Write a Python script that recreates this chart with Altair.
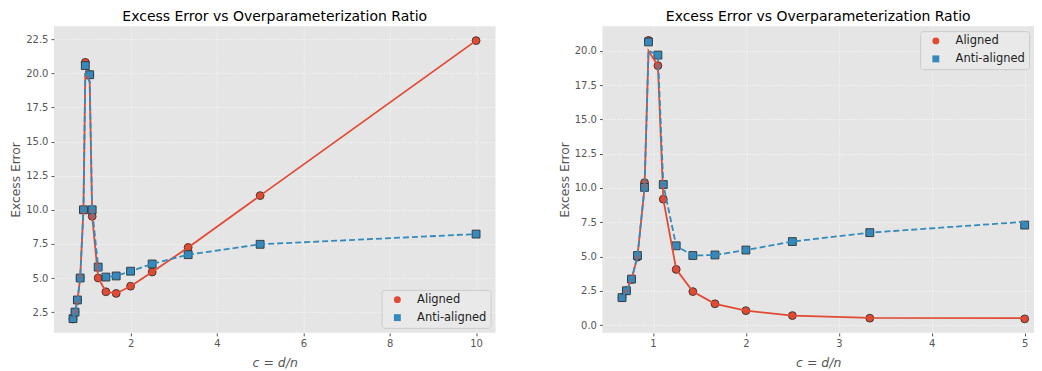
import altair as alt
import pandas as pd

# ---- data ----
series_names = ["Aligned", "Anti-aligned"]

x_left = [0.667, 0.714, 0.769, 0.833, 0.909, 0.952, 1.053, 1.111, 1.25, 1.429,
          1.667, 2.0, 2.5, 3.333, 5.0, 10.0]
left_aligned_pts = [2.0, 2.5, 3.37, 5.0, 10.0, 20.81, 19.9, 9.52, 5.0, 3.99,
                    3.87, 4.4, 5.44, 7.24, 11.04, 22.4]
left_anti_pts = [2.02, 2.5, 3.39, 5.0, 10.0, 20.57, 19.9, 10.0, 5.8, 5.07,
                 5.15, 5.5, 6.03, 6.71, 7.47, 8.22]
left_aligned_line = [2.0, 2.5, 3.33, 5.0, 10.0, 20.0, 19.4, 9.52, 5.0, 3.99,
                     3.87, 4.4, 5.44, 7.24, 11.04, 22.4]
left_anti_line = [2.0, 2.5, 3.33, 5.0, 10.0, 20.0, 19.4, 10.0, 5.8, 5.07,
                  5.15, 5.5, 6.03, 6.71, 7.47, 8.22]

x_right = [0.667, 0.714, 0.769, 0.833, 0.909, 0.952, 1.053, 1.111, 1.25, 1.429,
           1.667, 2.0, 2.5, 3.333, 5.0]
right_aligned_pts = [2.0, 2.5, 3.33, 4.95, 10.39, 20.76, 18.92, 9.18, 4.06, 2.44,
                     1.55, 1.05, 0.69, 0.5, 0.45]
right_anti_pts = [2.0, 2.5, 3.35, 5.07, 10.04, 20.65, 19.69, 10.25, 5.78, 5.07,
                  5.11, 5.47, 6.09, 6.74, 7.29]
right_aligned_line = [2.0, 2.5, 3.33, 5.0, 10.0, 20.0, 18.92, 9.18, 4.06, 2.44,
                      1.55, 1.05, 0.69, 0.52, 0.5]
right_anti_line = [2.0, 2.5, 3.33, 5.0, 10.0, 20.0, 19.69, 10.25, 5.78, 5.07,
                   5.11, 5.47, 6.09, 6.74, 7.53]

left_xticks = [2, 4, 6, 8, 10]
left_yticks = [2.5, 5.0, 7.5, 10.0, 12.5, 15.0, 17.5, 20.0, 22.5]
right_xticks = [1, 2, 3, 4, 5]
right_yticks = [0.0, 2.5, 5.0, 7.5, 10.0, 12.5, 15.0, 17.5, 20.0]

TITLE = "Excess Error vs Overparameterization Ratio"
RED = "#E24A33"
BLUE = "#348ABD"


def panel(xs, a_pts, b_pts, a_line, b_line, xdom, ydom, xticks, yticks,
          legend_orient, width, height):
    pts = pd.DataFrame({
        "x": list(xs) + list(xs),
        "y": list(a_pts) + list(b_pts),
        "series": [series_names[0]] * len(xs) + [series_names[1]] * len(xs),
    })
    la = pd.DataFrame({"x": xs, "y": a_line})
    lb = pd.DataFrame({"x": xs, "y": b_line})

    xenc = alt.X("x:Q", scale=alt.Scale(domain=xdom, nice=False, zero=False),
                 axis=alt.Axis(values=xticks, format="d", title="c = d/n",
                               labelOverlap=False))
    yenc = alt.Y("y:Q", scale=alt.Scale(domain=ydom, nice=False, zero=False),
                 axis=alt.Axis(values=yticks, format=".1f", title="Excess Error",
                               labelOverlap=False, tickCount=len(yticks)))

    leg = alt.Legend(title=None, orient=legend_orient, offset=5, padding=4,
                     fillColor="#E9E9E9", strokeColor="#CCCCCC", cornerRadius=3,
                     labelFontSize=11.5, labelColor="#222222", labelFont="DejaVu Sans",
                     symbolSize=48, symbolStrokeWidth=0, rowPadding=5,
                     symbolOffset=6, labelOffset=14)

    points = alt.Chart(pts).mark_point(
        filled=True, size=62, stroke="#333333", strokeWidth=0.9, opacity=1
    ).encode(
        x=xenc, y=yenc,
        color=alt.Color("series:N",
                        scale=alt.Scale(domain=series_names, range=[RED, BLUE]),
                        legend=leg),
        shape=alt.Shape("series:N",
                        scale=alt.Scale(domain=series_names, range=["circle", "square"]),
                        legend=leg),
    )
    line_a = alt.Chart(la).mark_line(color=RED, strokeWidth=1.8).encode(
        x=xenc, y=yenc)
    line_b = alt.Chart(lb).mark_line(color=BLUE, strokeWidth=1.8,
                                     strokeDash=[6, 3]).encode(
        x=xenc, y=yenc)

    return alt.layer(points, line_a, line_b).properties(
        width=width, height=height, title=TITLE)


left = panel(x_left, left_aligned_pts, left_anti_pts, left_aligned_line,
             left_anti_line, [0.226, 10.45], [0.98, 23.46], left_xticks,
             left_yticks, "bottom-right", 442, 307)
right = panel(x_right, right_aligned_pts, right_anti_pts, right_aligned_line,
              right_anti_line, [0.456, 5.10], [-0.57, 21.8], right_xticks,
              right_yticks, "top-right", 432, 307)

chart = alt.hconcat(left, right, spacing=63).resolve_scale(
    color="independent", shape="independent"
).resolve_legend(
    color="independent", shape="independent"
).properties(
    padding={"left": 2, "top": 2, "right": 0, "bottom": 0}
).configure_view(
    fill="#E5E5E5", strokeWidth=0
).configure_axis(
    grid=True, gridColor="white", gridDash=[1, 2], gridWidth=0.9,
    domain=False, tickColor="#555555", tickSize=3,
    labelColor="#555555", labelFont="DejaVu Sans", labelFontSize=10,
    labelPadding=3, labelOverlap=False,
    titleColor="#555555", titleFont="DejaVu Sans", titleFontSize=12.3,
    titleFontWeight="normal",
).configure_axisY(
    minExtent=28, maxExtent=28, titlePadding=3
).configure_axisX(
    titleFontStyle="italic", titleFontSize=12.5, titlePadding=8
).configure_title(
    font="DejaVu Sans", fontSize=14, fontWeight="normal", color="black",
    anchor="middle", offset=2
)

chart.save("out.html", embed_options={"renderer": "svg", "actions": False})
